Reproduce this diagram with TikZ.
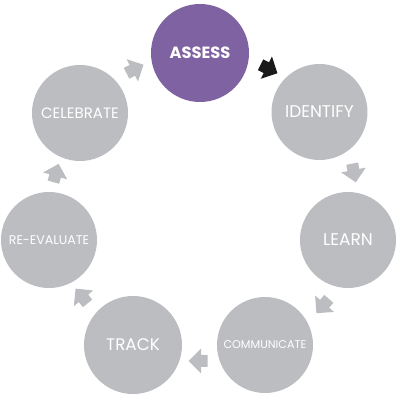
\documentclass[tikz,border=0pt]{standalone}
\usepackage{fontspec}
\setmainfont{Poppins}
\usetikzlibrary{calc}

\definecolor{stepgrey}{HTML}{BCBDC0}
\definecolor{steppurple}{HTML}{7F62A1}
\definecolor{stepblack}{HTML}{1A1A1A}

\tikzset{
  stage/.style={circle, fill=stepgrey, draw=none, minimum size=96pt,
    inner sep=0pt, text=white, font=\fontsize{#1}{#1}\selectfont},
  stage/.default=14,
  current/.style={stage=16.3, fill=steppurple, font=\fontsize{16.3}{16.3}\selectfont\bfseries},
  blockarrow/.pic={
    \fill[pic actions] (9.5,0) -- (-3,12.5) -- (-3,6) -- (-9.5,6)
      -- (-9.5,-6) -- (-3,-6) -- (-3,-12.5) -- cycle;
  }
}

\begin{document}
\begin{tikzpicture}[x=1pt, y=1pt]
  \useasboundingbox (0,0) rectangle (400,400);

  % the seven stages of the cycle
  \node[current, minimum size=98pt] (assess)      at (200,347)   {ASSESS};
  \node[stage=17]   (identify)    at (319.5,288) {IDENTIFY};
  \node[stage=17]   (learn)       at (348,160)   {LEARN};
  \node[stage=11.2] (communicate) at (265,55)    {COMMUNICATE};
  \node[stage=16.8, minimum size=98pt] (track) at (133,55) {TRACK};
  \node[stage=12.6] (reevaluate)  at (49,160)    {RE-EVALUATE};
  \node[stage=15]   (celebrate)   at (80,287)    {CELEBRATE};

  % block arrows between consecutive stages
  \pic[fill=stepblack, rotate=-26.6]
    at ($(assess)!0.5!(identify)+(9.25,13.5)$) {blockarrow};
  \pic[fill=stepgrey, rotate=-79]
    at ($(identify)!0.5!(learn)+(20.25,3)$) {blockarrow};
  \pic[fill=stepgrey, rotate=229]
    at ($(learn)!0.5!(communicate)+(16.1,-13.5)$) {blockarrow};
  \pic[fill=stepgrey, rotate=180]
    at ($(communicate)!0.5!(track)+(-1,-16)$) {blockarrow};
  \pic[fill=stepgrey, rotate=129]
    at ($(track)!0.5!(reevaluate)+(-9.4,-3.5)$) {blockarrow};
  \pic[fill=stepgrey, rotate=74]
    at ($(reevaluate)!0.5!(celebrate)+(-8.5,3.5)$) {blockarrow};
  \pic[fill=stepgrey, rotate=27]
    at ($(celebrate)!0.5!(assess)+(-5,14)$) {blockarrow};
\end{tikzpicture}
\end{document}
